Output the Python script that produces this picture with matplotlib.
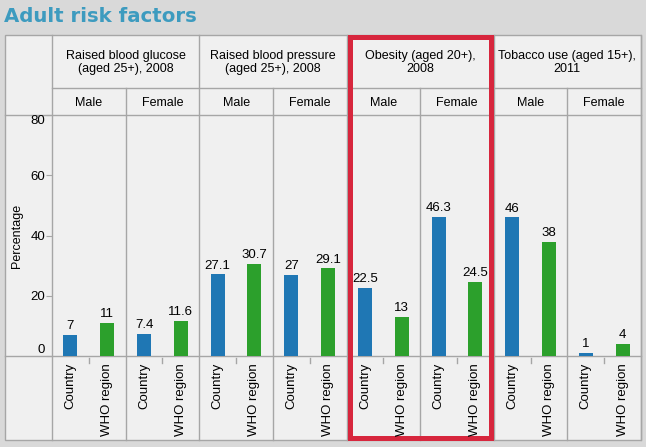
"""
Adult risk factors: country vs WHO region bars, grouped under a table-like header.
"""

import numpy as np #positions
import matplotlib
matplotlib.use("Agg")
import matplotlib.pyplot as plt #make plots

#==============================================================================
#data
groups = ["Raised blood glucose\n(aged 25+), 2008",
          "Raised blood pressure\n(aged 25+), 2008",
          "Obesity (aged 20+),\n2008",
          "Tobacco use (aged 15+),\n2011"]
sexes = ["Male", "Female"]
series = ["Country", "WHO region"]
country = [7, 7.4, 27.1, 27, 22.5, 46.3, 46, 1]
who_region = [11, 11.6, 30.7, 29.1, 13, 24.5, 38, 4]
yticks = [0, 20, 40, 60, 80]
#==============================================================================

W, H = 646, 447
bg = "#d9d9d9"
panel = "#f0f0f0"
gridc = "#a6a6a6"
blue = "#1f77b4"
green = "#2ca02c"
red = "#d7263d"
font = "Liberation Sans"

fig = plt.figure(figsize=(W / 100, H / 100), dpi=100, facecolor=bg)

#background axes in pixel coordinates (y down)
bk = fig.add_axes([0, 0, 1, 1])
bk.set_xlim(0, W)
bk.set_ylim(H, 0)
bk.axis("off")

left, right = 5, 641
top, bottom = 35, 440
col0 = 52
row1, row2, row3 = 88, 115, 356
ncol = len(groups) * len(sexes)
edges = np.linspace(col0, right, ncol + 1)

#panel
bk.add_patch(plt.Rectangle((left, top), right - left, bottom - top,
                           facecolor=panel, edgecolor=gridc, lw=1))

#horizontal lines
bk.plot([col0, right], [row1, row1], color=gridc, lw=1)
bk.plot([left, right], [row2, row2], color=gridc, lw=1)
bk.plot([left, right], [row3, row3], color=gridc, lw=1)

#vertical lines
for i, x in enumerate(edges):
    y0 = top if i % 2 == 0 else row1
    bk.plot([x, x], [y0, bottom], color=gridc, lw=1)

#header texts
for g, name in enumerate(groups):
    xc = (edges[2 * g] + edges[2 * g + 2]) / 2
    bk.text(xc, (top + row1) / 2 + 1, name, ha="center", va="center",
            fontsize=9, family=font, linespacing=1.12)
    for s, sx in enumerate(sexes):
        xs = (edges[2 * g + s] + edges[2 * g + s + 1]) / 2
        bk.text(xs, (row1 + row2) / 2 + 1, sx, ha="center", va="center",
                fontsize=9, family=font)

#small ticks between the two slots in every sub column
for i in range(ncol):
    xm = (edges[i] + edges[i + 1]) / 2
    bk.plot([xm, xm], [358, 363], color=gridc, lw=1)

#title
bk.text(4, 16, "Adult risk factors", ha="left", va="center", fontsize=14.2,
        fontweight="bold", color="#3d9bbf", family="DejaVu Sans")

bk.text(17, (row2 + row3) / 2, "Percentage", rotation=90, ha="center",
        va="center", fontsize=9, family=font)

#==============================================================================
#bar axes
ax = fig.add_axes([col0 / W, 1 - row3 / H, (right - col0) / W, (row3 - row2) / H])
ax.set_facecolor("none")
for sp in ax.spines.values():
    sp.set_visible(False)

x = np.arange(ncol)
bw = 0.38
b1 = ax.bar(2 * x, country, width=bw, color=blue)
b2 = ax.bar(2 * x + 1, who_region, width=bw, color=green)
ax.bar_label(b1, labels=["%g" % v for v in country], padding=2,
             fontsize=9.5, family=font)
ax.bar_label(b2, labels=["%g" % v for v in who_region], padding=2,
             fontsize=9.5, family=font)

ax.set_xlim(-0.5, 2 * ncol - 0.5)
ax.set_ylim(0, 80)
ax.set_xticks(np.arange(2 * ncol))
ax.set_xticklabels(series * ncol, rotation=90, fontsize=9.5, family=font)
ax.tick_params(axis="x", length=0, pad=5)

ax.set_yticks(yticks)
ax.set_yticklabels([str(v) for v in yticks], fontsize=9.5, family=font)
ax.tick_params(axis="y", length=4, color=gridc, pad=1)
ylabs = ax.get_yticklabels()
ylabs[0].set_va("bottom")
ylabs[-1].set_va("top")
#==============================================================================

#red highlight around obesity
bk.add_patch(plt.Rectangle((349.5, 36.5), 141, 401, facecolor="none",
                           edgecolor=red, lw=3.6, zorder=10))

fig.savefig("out.png", dpi=100, facecolor=bg)
